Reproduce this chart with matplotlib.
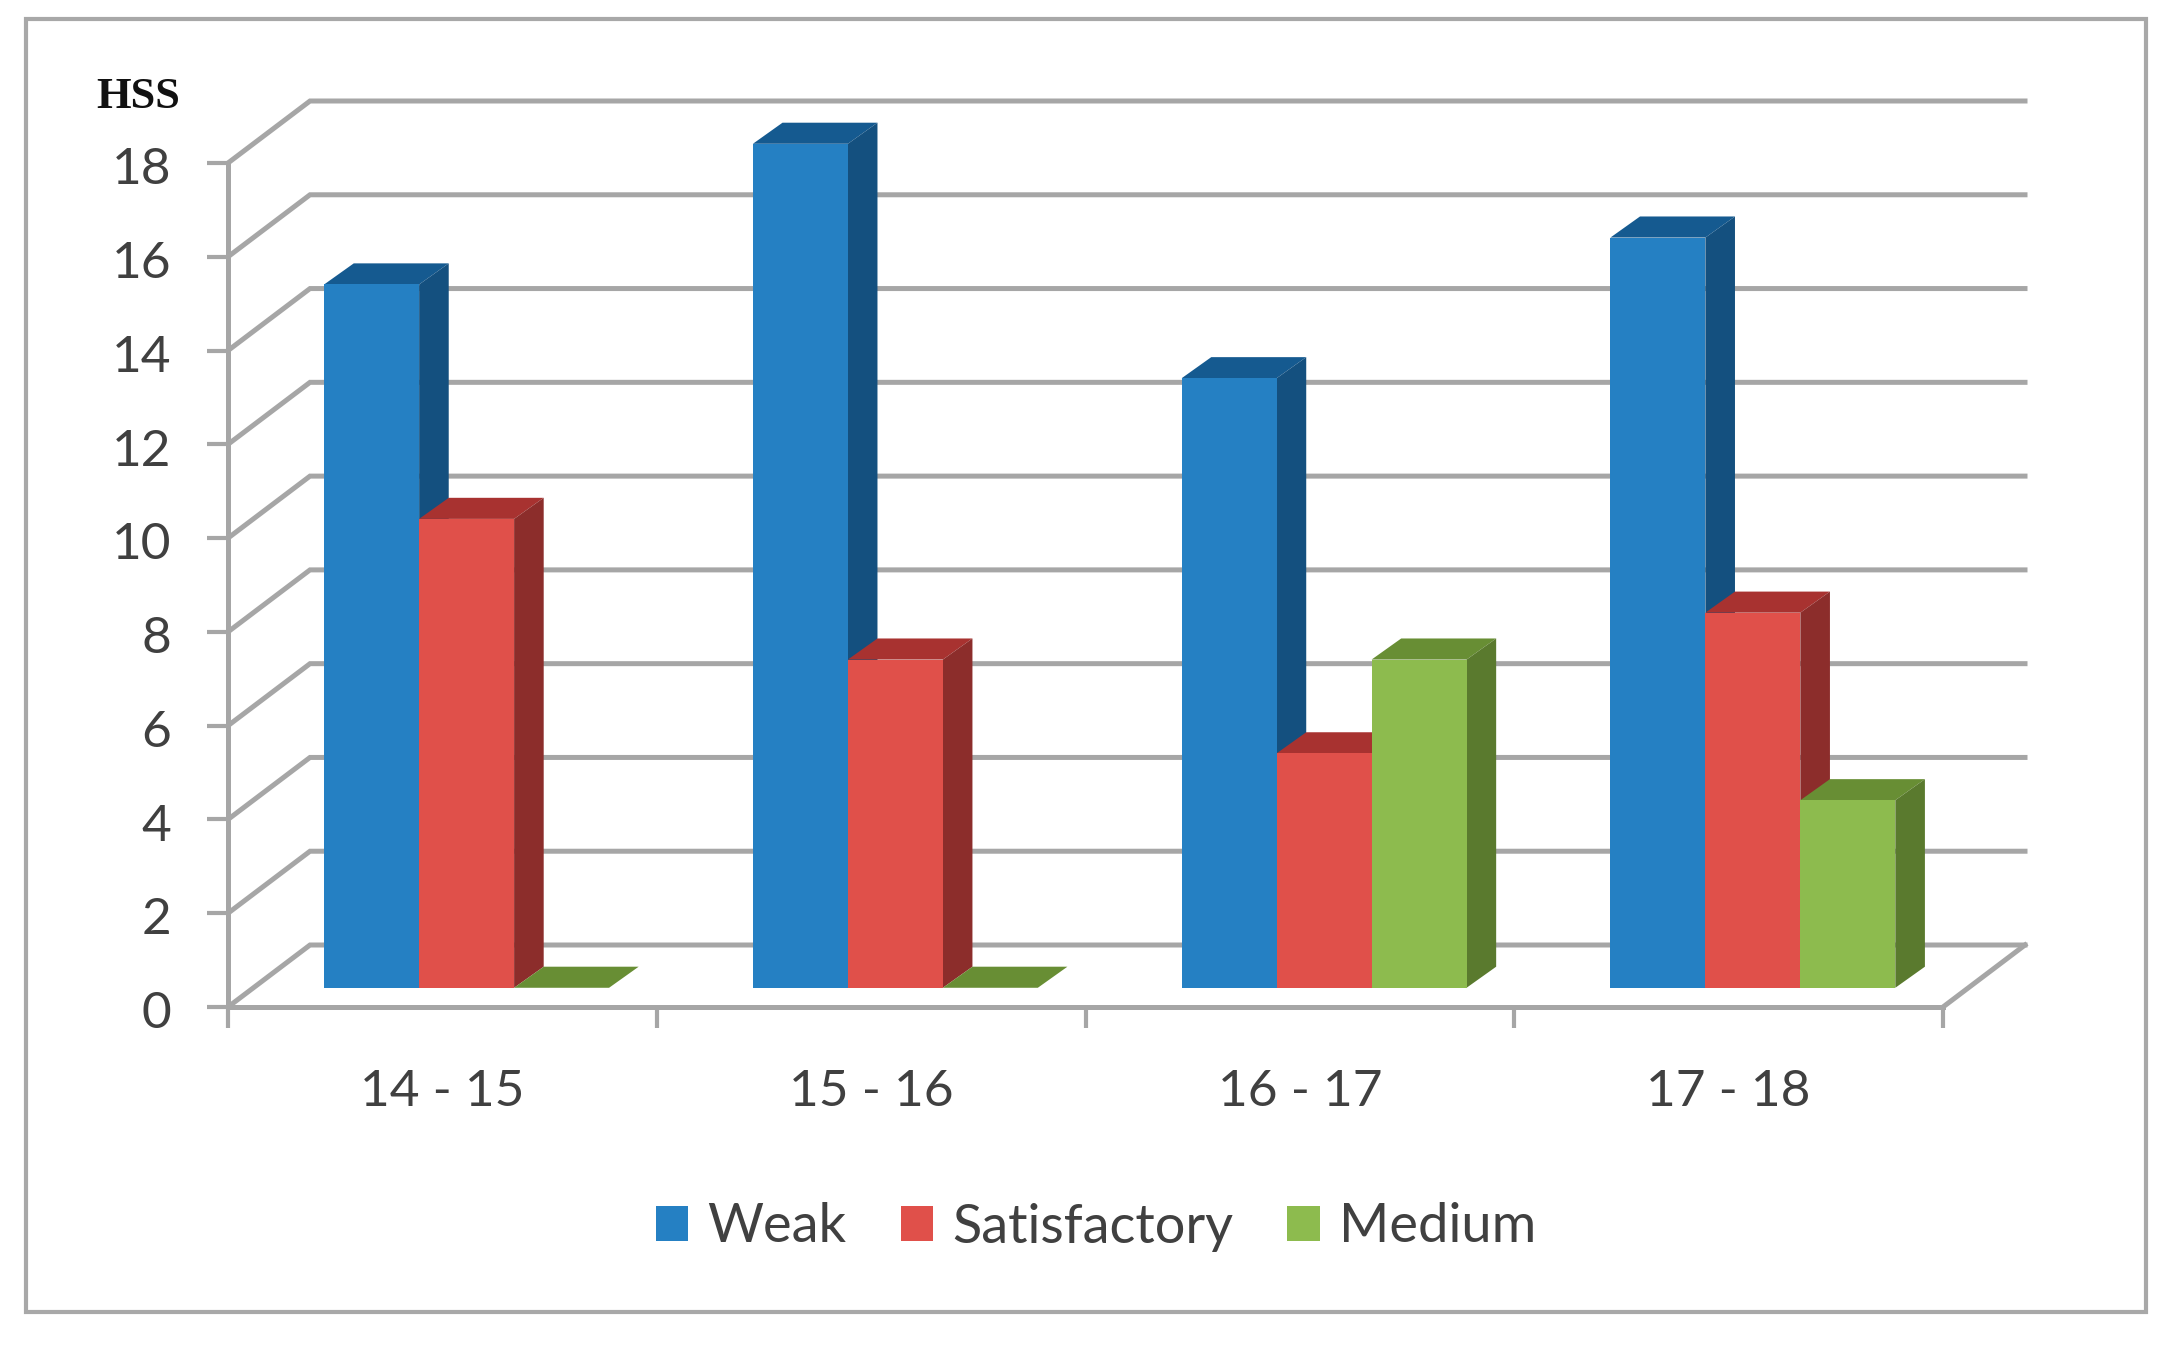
import numpy as np
import matplotlib
matplotlib.use('Agg')
import matplotlib.pyplot as plt
from matplotlib.patches import Rectangle
from matplotlib.transforms import ScaledTranslation

plt.rcParams['font.family'] = ['Lato', 'DejaVu Sans']

# values
periods = ['14 - 15', '15 - 16', '16 - 17', '17 - 18']
weak = [15, 18, 13, 16]
satisfactory = [10, 7, 5, 8]
medium = [0, 0, 7, 4]
y_ticks = list(range(0, 20, 2))

W, H = 2171, 1360
fig = plt.figure(figsize=(W / 100, H / 100), dpi=100)
ax = fig.add_axes([228 / W, 1 - 1007 / H, (1943 - 228) / W, (1007 - 163) / H])
ax.set_xlim(0, 4)
ax.set_ylim(0, 18)

grey = '#a6a6a6'
text_col = '#404040'

# oblique projection: depth 0 = front of the floor, depth 1 = back wall
DX = 82 / ((1943 - 228) / 4)
DY = 62 / ((1007 - 163) / 18)

for v in y_ticks:
    ax.plot([0, DX, 4 + DX], [v, v + DY, v + DY], color=grey, lw=3.6,
            clip_on=False, zorder=1, solid_joinstyle='miter')
ax.plot([4, 4 + DX], [0, DY], color=grey, lw=3.6, clip_on=False, zorder=1)

series = [
    ('Weak', weak, '#2580c3', '#14507f', '#155a90'),
    ('Satisfactory', satisfactory, '#e0504a', '#8c2d2b', '#a83230'),
    ('Medium', medium, '#8dbb4e', '#5a7a2e', '#688e34'),
]

gap = 0.165
bar_w = 0.2215
d0, d1 = 0.31, 0.65
z = 3
for i in range(len(periods)):
    for j, (name, vals, front, side, top) in enumerate(series):
        v = vals[i]
        x0 = i + gap + j * bar_w + d0 * DX
        x1 = x0 + bar_w
        y0 = d0 * DY
        ddx, ddy = (d1 - d0) * DX + 0.004, (d1 - d0) * DY
        # top and right side of the box, then the front face
        ax.fill([x0, x1, x1 + ddx, x0 + ddx], [y0 + v, y0 + v, y0 + v + ddy, y0 + v + ddy],
                color=top, lw=0, clip_on=False, zorder=z)
        if v > 0:
            ax.fill([x1, x1 + ddx, x1 + ddx, x1], [y0, y0 + ddy, y0 + v + ddy, y0 + v],
                    color=side, lw=0, clip_on=False, zorder=z)
            ax.bar(x0, v, width=bar_w, bottom=y0, align='edge', color=front, lw=0,
                   clip_on=False, zorder=z)
        z += 1

for s in ['top', 'right']:
    ax.spines[s].set_visible(False)
for s in ['left', 'bottom']:
    ax.spines[s].set_color(grey)
    ax.spines[s].set_linewidth(3.6)
    ax.spines[s].set_zorder(2)

ax.set_yticks(y_ticks)
ax.tick_params(axis='y', length=15, width=3, color=grey, pad=26, labelsize=37, labelcolor=text_col)
ax.set_xticks(range(5))
ax.set_xticklabels([])
ax.set_xticks(np.arange(len(periods)) + 0.5, labels=periods, minor=True)
ax.tick_params(axis='x', which='major', length=15, width=3, color=grey)
ax.tick_params(axis='x', which='minor', length=0, pad=45, labelsize=37, labelcolor=text_col)

# the digits sit slightly under their ticks in the original
nudge = ScaledTranslation(0, -2 / 72, fig.dpi_scale_trans)
for lab in ax.get_yticklabels():
    lab.set_transform(lab.get_transform() + nudge)

handles = [Rectangle((0, 0), 1, 1, color=s[2], lw=0) for s in series]
fig.legend(handles, [s[0] for s in series], loc='center', bbox_to_anchor=(1096 / W, 1 - 1227 / H),
           ncol=3, frameon=False, fontsize=39, handlelength=0.6, handleheight=0.6,
           handletextpad=0.35, columnspacing=1.0, labelcolor=text_col)

fig.text(96 / W, 1 - 97 / H, 'HSS', family='Liberation Serif', weight='bold', fontsize=32,
         color='#111111', ha='left', va='center')

# chart border
fig.add_artist(Rectangle((26 / W, 1 - 1312 / H), (2146 - 26) / W, (1312 - 19) / H,
                         transform=fig.transFigure, fill=False, ec='#a8a8a8', lw=3))

fig.savefig('out.png', dpi=100)
